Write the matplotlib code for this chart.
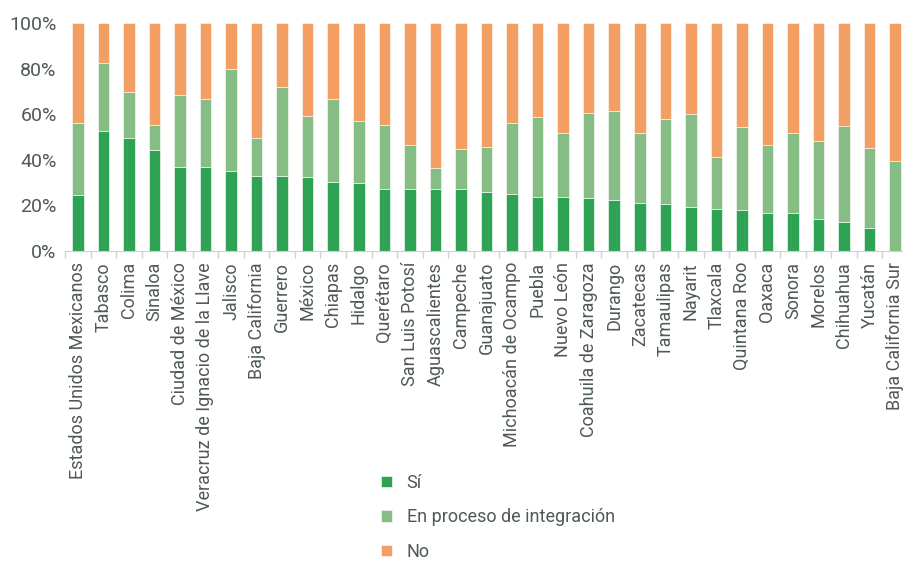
import matplotlib
matplotlib.use('Agg')
import matplotlib.pyplot as plt
import numpy as np

plt.rcParams['font.family'] = ['Roboto', 'DejaVu Sans']

estados = ['Estados Unidos Mexicanos', 'Tabasco', 'Colima', 'Sinaloa', 'Ciudad de México',
           'Veracruz de Ignacio de la Llave', 'Jalisco', 'Baja California', 'Guerrero', 'México',
           'Chiapas', 'Hidalgo', 'Querétaro', 'San Luis Potosí', 'Aguascalientes', 'Campeche',
           'Guanajuato', 'Michoacán de Ocampo', 'Puebla', 'Nuevo León', 'Coahuila de Zaragoza',
           'Durango', 'Zacatecas', 'Tamaulipas', 'Nayarit', 'Tlaxcala', 'Quintana Roo', 'Oaxaca',
           'Sonora', 'Morelos', 'Chihuahua', 'Yucatán', 'Baja California Sur']

si = [24.7, 52.8, 49.6, 44.3, 37.0, 37.0, 35.2, 33.0, 33.0, 32.6,
      30.4, 30.0, 27.3, 27.3, 27.3, 27.3, 26.0, 25.1, 23.8, 23.8, 23.4,
      22.5, 21.2, 20.8, 19.4, 18.6, 18.1, 16.8, 16.8, 14.2, 12.9, 10.2, 0.0]
# cumulative top of "en proceso"
acum_proceso = [56.0, 82.3, 69.9, 55.4, 68.6, 66.5, 79.7, 49.6, 71.8, 59.4,
                66.5, 56.9, 55.4, 46.3, 36.5, 44.9, 45.6, 56.0, 58.6, 51.6, 60.7,
                61.3, 51.6, 58.0, 59.9, 41.1, 54.2, 46.3, 51.6, 48.1, 54.8, 45.0, 39.6]

si = np.array(si)
proceso = np.array(acum_proceso) - si
no = 100 - si - proceso

c_si = '#2ea354'
c_proc = '#86bd85'
c_no = '#f39e62'
txt = '#4f5958'

fig = plt.figure(figsize=(9.04, 5.63), dpi=100)
ax = fig.add_axes([65/904, 1 - 251/563, 843/904, 228/563])

x = np.arange(len(estados))
w = 0.45
ax.bar(x, si, w, color=c_si, edgecolor='white', linewidth=0.4, label='Sí')
ax.bar(x, proceso, w, bottom=si, color=c_proc, edgecolor='white', linewidth=0.4,
       label='En proceso de integración')
ax.bar(x, no, w, bottom=si + proceso, color=c_no, edgecolor='white', linewidth=0.4, label='No')

ax.set_xlim(-0.5, len(estados) - 0.5)
ax.set_ylim(0, 100)
ax.set_yticks(np.arange(0, 101, 20))
ax.set_yticklabels([f'{v}%' for v in range(0, 101, 20)], fontsize=14, color=txt)
ax.tick_params(axis='y', length=0, pad=6)

ax.set_xticks(x)
ax.set_xticklabels(estados, rotation=90, fontsize=13, color=txt)
ax.tick_params(axis='x', length=0, pad=8)
ax.set_xticks(np.arange(-0.5, len(estados), 1), minor=True)
ax.tick_params(axis='x', which='minor', length=5, color='#d0d0d0', width=1)

for s in ['top', 'right', 'left']:
    ax.spines[s].set_visible(False)
ax.spines['bottom'].set_color('#d0d0d0')

leg = fig.legend(loc='lower left', bbox_to_anchor=(365/904, -0.025), frameon=False,
                 fontsize=13, handlelength=0.6, handleheight=0.6, labelspacing=0.92,
                 handletextpad=0.8, labelcolor=txt)

fig.savefig('out.png', dpi=100)
